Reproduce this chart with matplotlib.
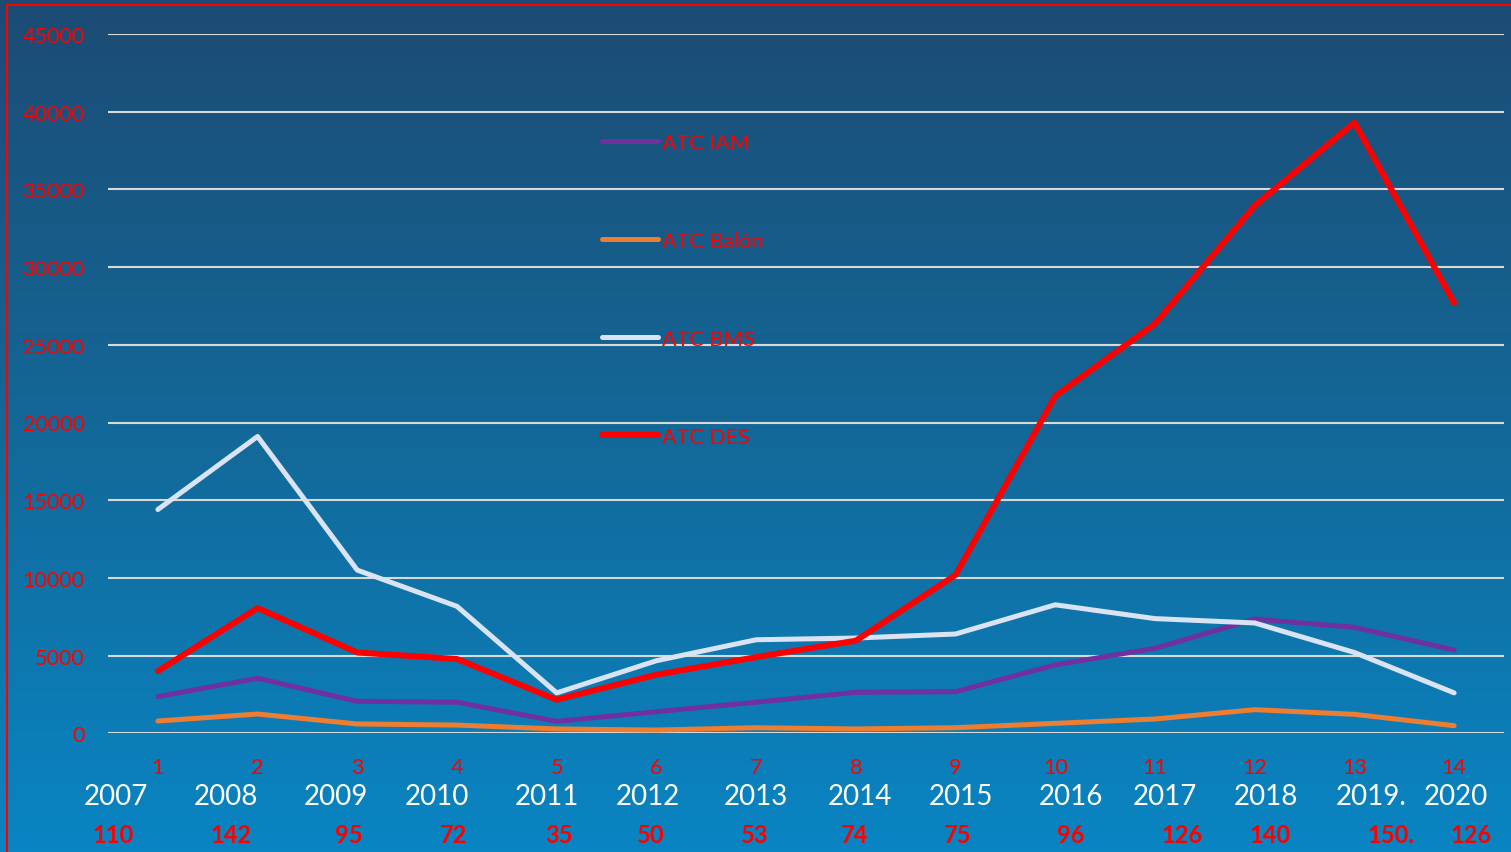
import matplotlib.pyplot as plt
import numpy as np
from matplotlib.colors import LinearSegmentedColormap
from matplotlib.patches import Rectangle

plt.rcParams['font.family'] = ['Lato', 'DejaVu Sans']

# datos
x = list(range(1, 15))
iam = [2360, 3540, 2060, 2000, 770, 1390, 2000, 2640, 2680, 4400, 5470, 7350, 6820, 5360]
balon = [790, 1240, 600, 530, 280, 210, 360, 280, 360, 640, 920, 1520, 1220, 490]
bms = [14400, 19100, 10500, 8170, 2600, 4670, 6020, 6130, 6390, 8270, 7380, 7100, 5200, 2600]
des = [4000, 8060, 5200, 4780, 2160, 3770, 4900, 5960, 10190, 21700, 26350, 33950, 39300, 27700]
years = ['2007', '2008', '2009', '2010', '2011', '2012', '2013', '2014', '2015',
         '2016', '2017', '2018', '2019.', '2020']
counts = ['110', '142', '95', '72', '35', '50', '53', '74', '75', '96', '126', '140', '150.', '126']

# posiciones (px) de los textos de abajo
years_px = [116, 226, 336, 437, 547, 648, 756, 860, 961, 1071, 1165, 1266, 1371, 1456]
counts_px = [113, 231, 349, 454, 559, 651, 755, 854, 958, 1071, 1182, 1270, 1391, 1471]

W, H = 1511, 853
fig = plt.figure(figsize=(W / 100, H / 100), dpi=100)

# fondo degradado
bg = fig.add_axes([0, 0, 1, 1], zorder=-5)
cmap = LinearSegmentedColormap.from_list('bg', ['#1c4b74', '#136898', '#0985c3'])
bg.imshow(np.linspace(0, 1, 256).reshape(-1, 1), aspect='auto', cmap=cmap,
          extent=[0, 1, 0, 1])
bg.axis('off')

ax = fig.add_axes([108 / W, 1 - 734.3 / H, (1504 - 108) / W, (734.3 - 35) / H])
ax.patch.set_alpha(0)

ax.plot(x, iam, color='#7030a0', lw=3.6, solid_capstyle='round', label='ATC IAM')
ax.plot(x, balon, color='#ed7d31', lw=3.6, solid_capstyle='round', label='ATC Balón')
ax.plot(x, bms, color='#dae3f3', lw=3.6, solid_capstyle='round', label='ATC BMS')
ax.plot(x, des, color='#ff0000', lw=4.3, solid_capstyle='round', label='ATC DES')

ax.set_xlim(0.5, 14.5)
ax.set_ylim(0, 45000)
ax.set_yticks(range(0, 45001, 5000))
ax.grid(axis='y', color='#d9d9d9', lw=1.5, zorder=0)
ax.set_axisbelow(True)
ax.set_xticks(x)
ax.set_xticklabels([str(i) for i in x])
ax.tick_params(axis='both', length=0, labelcolor='red', labelsize=15.5)
ax.tick_params(axis='y', pad=17)
ax.tick_params(axis='x', pad=17)
for s in ax.spines.values():
    s.set_visible(False)

leg = ax.legend(loc='upper left', bbox_to_anchor=(602 / W, 1 - 133.5 / H),
                bbox_transform=fig.transFigure, frameon=False, fontsize=15.5,
                labelspacing=3.63, handlelength=2.6, handletextpad=0.2,
                borderpad=0, borderaxespad=0)
for t in leg.get_texts():
    t.set_color('red')

for yr, px in zip(years, years_px):
    fig.text(px / W, 1 - 797 / H, yr, color='white', fontsize=20, ha='center', va='center')
for c, px in zip(counts, counts_px):
    fig.text(px / W, 1 - 836 / H, c, color='red', fontsize=17, fontweight='bold',
             ha='center', va='center')

# borde rojo
fig.add_artist(Rectangle((7 / W, -0.1), 1.2, 1.1 - 6 / H, transform=fig.transFigure,
                         fill=False, edgecolor='red', lw=1.5, clip_on=False))

fig.savefig('out.png', dpi=100)
